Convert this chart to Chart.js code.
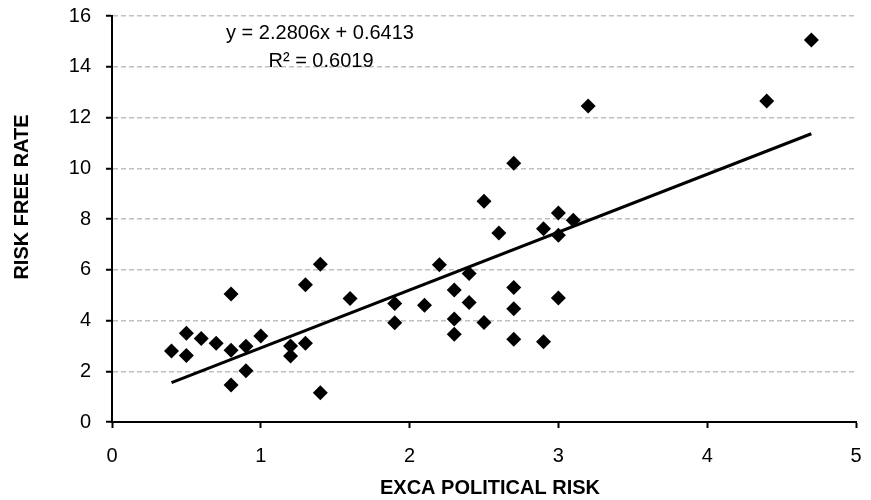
<!DOCTYPE html>
<html>
<head>
    <meta charset="utf-8">
    <title>Risk free rate vs EXCA political risk</title>
    <style>
        html, body { margin: 0; padding: 0; background: #fff; }
        #wrap { width: 871px; height: 500px; }
    </style>
    <script src="https://cdn.jsdelivr.net/npm/chart.js"></script>
</head>
<body>
    <div id="wrap"><canvas id="myChart"></canvas></div>
    <script>
        // datos
        var politicalRisk = [0.4, 0.5, 0.5, 0.6, 0.7, 0.8, 0.8, 0.8, 0.9, 0.9,
                             1.0, 1.2, 1.2, 1.3, 1.3, 1.4, 1.4, 1.6, 1.9, 1.9,
                             2.1, 2.2, 2.3, 2.3, 2.3, 2.4, 2.4, 2.5, 2.5, 2.6,
                             2.7, 2.7, 2.7, 2.7, 2.9, 2.9, 3.0, 3.0, 3.0, 3.1,
                             3.2, 4.4, 4.7];
        var riskFreeRate = [2.80, 3.50, 2.62, 3.29, 3.10, 5.04, 2.83, 1.46, 2.99, 2.02,
                            3.39, 3.00, 2.60, 5.41, 3.10, 6.22, 1.15, 4.87, 4.67, 3.91,
                            4.60, 6.20, 5.20, 4.06, 3.46, 5.85, 4.71, 8.70, 3.92, 7.45,
                            10.20, 5.30, 4.46, 3.26, 7.62, 3.16, 8.24, 7.36, 4.89, 7.95,
                            12.45, 12.65, 15.05];

        // linea de tendencia (Excel)
        var slope = 2.2806;
        var intercept = 0.6413;
        var rSquared = 0.6019;
        var trendRange = [0.4, 4.7];

        var xTicks = [0, 1, 2, 3, 4, 5];
        var yTicks = [0, 2, 4, 6, 8, 10, 12, 14, 16];

        var xTitle = 'EXCA POLITICAL RISK';
        var yTitle = 'RISK FREE RATE';

        var points = politicalRisk.map((x, i) => ({ x: x, y: riskFreeRate[i] }));
        var trend = trendRange.map(x => ({ x: x, y: slope * x + intercept }));

        var textPlugin = {
            id: 'textos',
            afterDraw(chart) {
                var ctx = chart.ctx;
                ctx.save();
                ctx.fillStyle = '#000';
                ctx.textAlign = 'center';
                ctx.textBaseline = 'middle';
                ctx.font = '20px "Liberation Sans", Arial, sans-serif';
                ctx.fillText('y = ' + slope.toFixed(4) + 'x + ' + intercept.toFixed(4), 320, 33);
                ctx.fillText('R\u00B2 = ' + rSquared.toFixed(4), 321, 61);

                ctx.font = 'bold 20px "Liberation Sans", Arial, sans-serif';
                ctx.fillText(xTitle, 490, 488);
                ctx.translate(22, 197);
                ctx.rotate(-Math.PI / 2);
                ctx.fillText(yTitle, 0, 0);
                ctx.restore();
            }
        };

        var ctx = document.getElementById('myChart').getContext('2d');
        var myChart = new Chart(ctx, {
            type: 'scatter',
            data: {
                datasets: [{
                    label: 'datos',
                    data: points,
                    pointStyle: 'rectRot',
                    pointRadius: 7.5,
                    pointHoverRadius: 7.5,
                    backgroundColor: '#000',
                    borderColor: '#000',
                    borderWidth: 0
                },
                {
                    label: 'tendencia',
                    data: trend,
                    showLine: true,
                    pointRadius: 0,
                    borderColor: '#000',
                    borderWidth: 3
                }]
            },
            plugins: [textPlugin],
            options: {
                responsive: true,
                maintainAspectRatio: false,
                animation: false,
                layout: {
                    padding: { top: 16, right: 15, left: 0, bottom: 0 }
                },
                plugins: {
                    legend: { display: false },
                    tooltip: { enabled: false }
                },
                scales: {
                    x: {
                        type: 'linear',
                        min: 0,
                        max: 5,
                        afterBuildTicks: s => { s.ticks = xTicks.map(v => ({ value: v })); },
                        afterFit: s => {
                            s.height = 78;
                            s.paddingLeft = 0;
                            s.paddingRight = 0;
                        },
                        grid: {
                            drawOnChartArea: false,
                            drawTicks: true,
                            tickLength: 6,
                            tickColor: '#000',
                            tickWidth: 2
                        },
                        border: { color: '#000', width: 2 },
                        ticks: {
                            color: '#000',
                            padding: 16,
                            maxRotation: 0,
                            font: { family: '"Liberation Sans", Arial, sans-serif', size: 20 }
                        }
                    },
                    y: {
                        type: 'linear',
                        min: 0,
                        max: 16,
                        afterBuildTicks: s => { s.ticks = yTicks.map(v => ({ value: v })); },
                        afterFit: s => {
                            s.width = 112;
                            s.paddingTop = 0;
                            s.paddingBottom = 0;
                        },
                        grid: {
                            color: '#c0c0c0',
                            lineWidth: 1.5,
                            drawTicks: true,
                            tickLength: 6,
                            tickColor: '#000',
                            tickWidth: 2
                        },
                        border: { color: '#000', width: 2, dash: [5, 3] },
                        ticks: {
                            color: '#000',
                            padding: 15,
                            font: { family: '"Liberation Sans", Arial, sans-serif', size: 20 }
                        }
                    }
                }
            }
        });
    </script>
</body>
</html>
